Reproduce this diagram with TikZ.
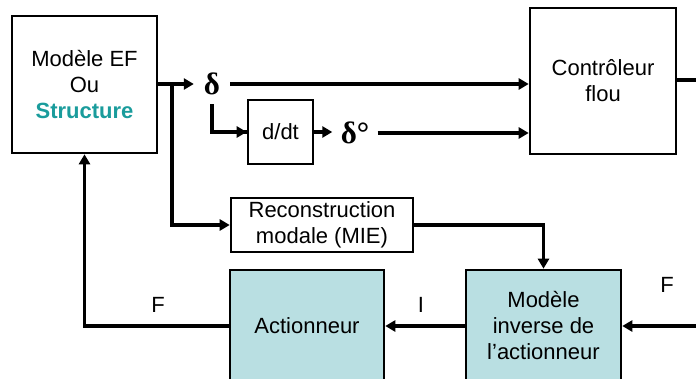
\documentclass[tikz,border=0pt]{standalone}
\usepackage{fontspec}
\setmainfont{Liberation Sans}
\newfontfamily\greekfont{Liberation Serif}
\usetikzlibrary{arrows.meta}

\definecolor{structteal}{HTML}{1A9C9C}
\definecolor{actblue}{HTML}{B9DFE2}

\tikzset{
    block/.style={draw, line width=2.6pt, align=center, inner sep=0pt,
        font=\fontsize{22}{26}\selectfont},
    actblock/.style={block, fill=actblue},
    sig/.style={line width=3.2pt, -{Triangle[length=10pt,width=11pt]}},
    wire/.style={line width=3.2pt},
    lbl/.style={font=\fontsize{22}{26}\selectfont, inner sep=1pt},
    glbl/.style={font=\greekfont\bfseries\fontsize{31}{31}\selectfont, inner sep=0pt}
}

\begin{document}
\begin{tikzpicture}[x=1pt, y=-1pt]

            \clip (0,0) rectangle (696,378);

            % Blocks
            \node[block, minimum width=145pt, minimum height=137pt] (ef) at (84.5,84.5)
                {Modèle EF\\Ou\\\textcolor{structteal}{\textbf{Structure}}};
            \node[block, minimum width=146pt, minimum height=146pt] (ctrl) at (603,81)
                {Contrôleur\\flou};
            \node[block, minimum width=65pt, minimum height=64pt] (dt) at (280.5,132) {d/dt};
            \node[block, minimum width=182pt, minimum height=54pt] (recon) at (322,225)
                {Reconstruction\\modale (MIE)};
            \node[actblock, minimum width=155pt, minimum height=112pt] (minv) at (543.5,326)
                {Modèle\\inverse de\\l’actionneur};
            \node[actblock, minimum width=154pt, minimum height=112pt] (act) at (307,326)
                {Actionneur};

            % Signals
            \node[glbl, minimum width=36pt] (delta) at (212,84) {δ};
            \node[glbl, minimum width=45pt] (ddelta) at (355,133) {δ°};
            \node[lbl] (flbl) at (158,305) {F};
            \node[lbl] (ilbl) at (421,305) {I};
            \node[lbl] (finlbl) at (667,285) {F};

            \coordinate (split) at (172,84);
            \coordinate (dbranch) at (212,104);
            \coordinate (fin) at (700,326);
            \coordinate (cout) at (700,80);

            % Output of the structure model
            \draw[sig] (ef.east |- split) -- (delta.west);
            \draw[sig] (split) |- (recon.west);

            % Inputs of the fuzzy controller
            \draw[sig] (delta.east) -- (ctrl.west |- delta.east);
            \draw[wire] (dbranch) |- (dt.west);
            \draw[sig] (dbranch |- dt) -- (dt.west);
            \draw[sig] (dt.east) -- (ddelta.west |- dt.east);
            \draw[sig] (ddelta.east) -- (ctrl.west |- ddelta.east);
            \draw[wire] (ctrl.east |- cout) -- (cout);

            % Inverse model and actuator
            \draw[sig] (recon.east) -| (minv.north);
            \draw[sig] (fin) -- (minv.east);
            \draw[sig] (minv.west) -- (act.east);

            % Feedback force
            \draw[sig] (act.west) -| (ef.south);

\end{tikzpicture}
\end{document}
